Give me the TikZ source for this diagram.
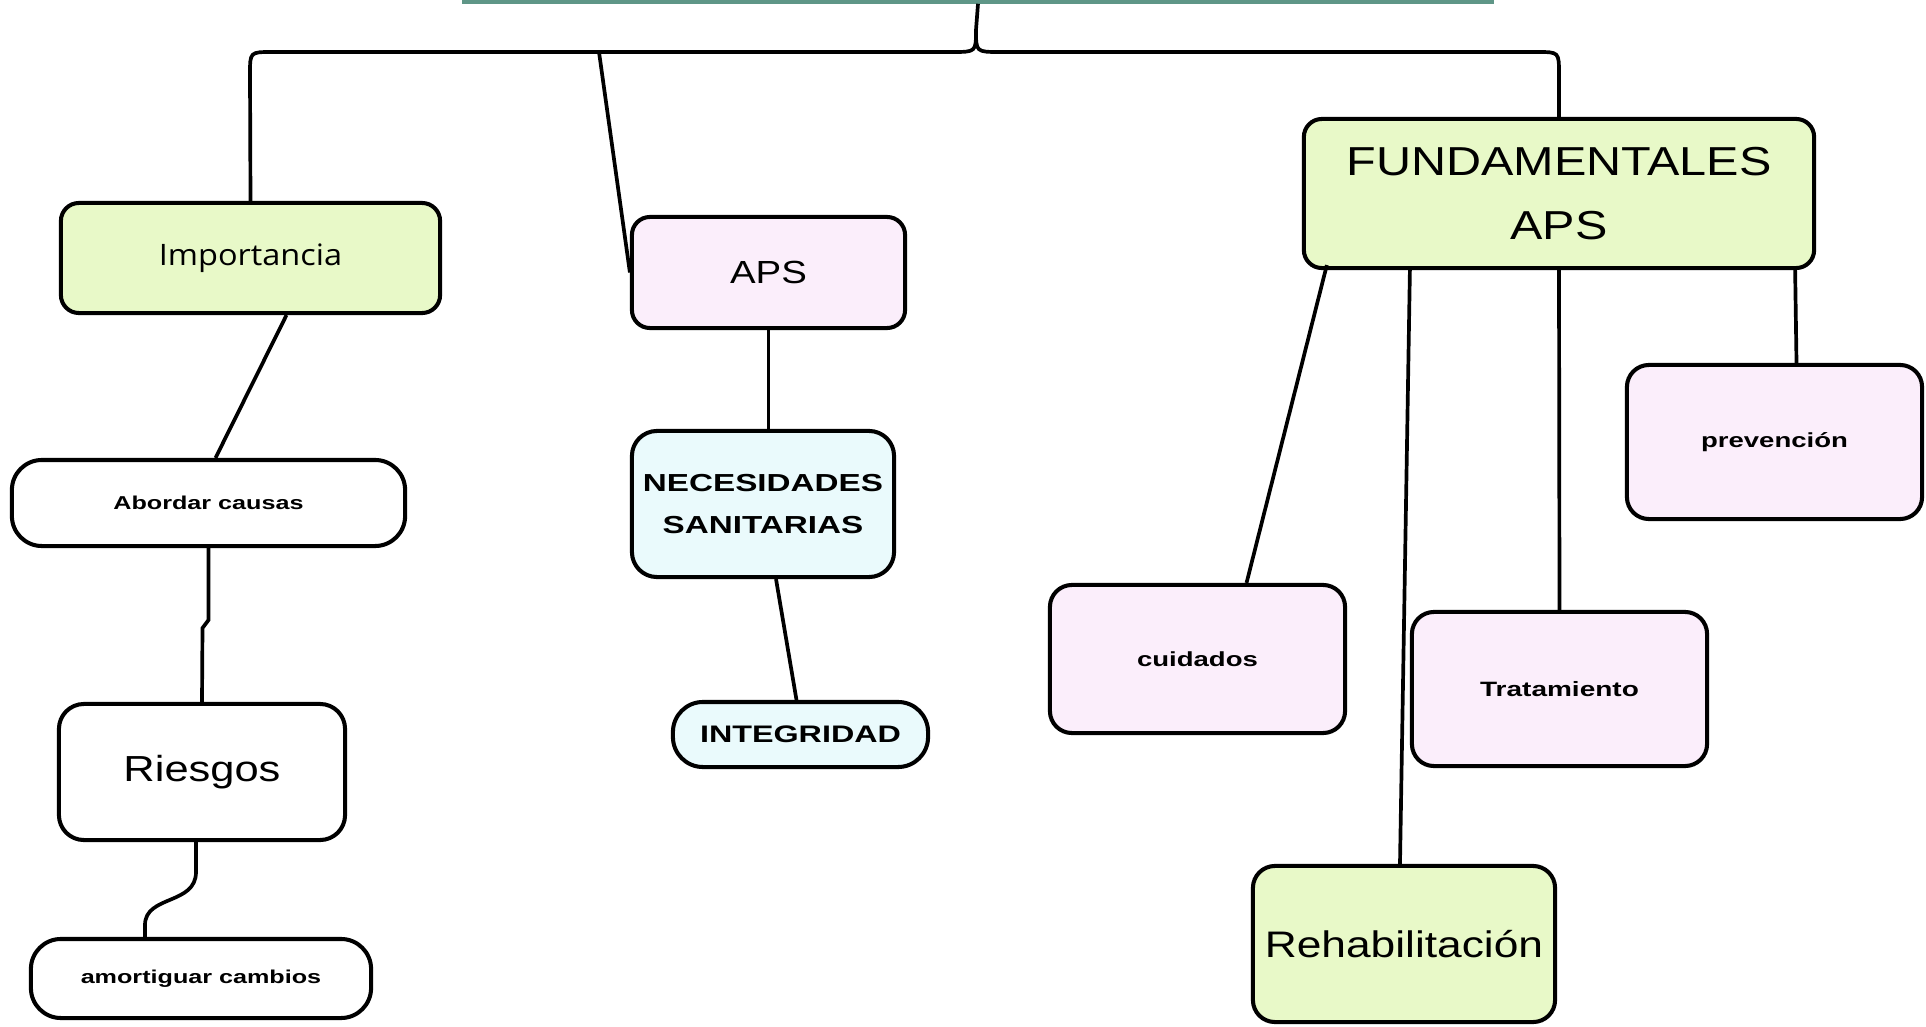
\documentclass[tikz,border=0pt]{standalone}
\usepackage{fontspec}
\usepackage{tikz}
\usetikzlibrary{positioning}
\newfontfamily\arialfont{Liberation Sans}[FakeStretch=1.2]
\newfontfamily\arialbold{Liberation Sans}[FakeStretch=1.35]
\newfontfamily\opensfont{Open Sans}[FakeStretch=1.1]
\definecolor{limefill}{RGB}{232,249,200}
\definecolor{pinkfill}{RGB}{251,238,251}
\definecolor{icefill}{RGB}{234,250,252}
\definecolor{rootteal}{RGB}{95,150,135}

\begin{document}
\begin{tikzpicture}[x=0.01cm,y=-0.01cm]
\tikzset{
  box/.style={draw=black, line width=1.15pt, rounded corners=0.18cm, inner sep=0pt, align=center},
  greenbox/.style={box, fill=limefill},
  pinkbox/.style={box, fill=pinkfill},
  icebox/.style={box, fill=icefill},
  whitebox/.style={box, fill=white},
  link/.style={line width=1.05pt}
}
\useasboundingbox (0,0) rectangle (1926,1027);
\node[draw=rootteal, line width=1pt, minimum width=10.28cm, minimum height=1cm] (root) at (978,-48) {};
\node[greenbox, minimum width=3.79cm, minimum height=1.10cm, font=\opensfont\fontsize{8.4}{10}\selectfont] (imp) at (250.5,258) {Importancia};
\node[pinkbox, minimum width=2.73cm, minimum height=1.11cm, font=\arialfont\fontsize{9.1}{11}\selectfont] (aps) at (768.5,272.5) {APS};
\node[greenbox, minimum width=5.10cm, minimum height=1.49cm, font=\arialfont\fontsize{11.5}{18}\selectfont] (fund) at (1559,193.5) {FUNDAMENTALES\\APS};
\node[whitebox, rounded corners=0.3cm, minimum width=3.93cm, minimum height=0.86cm, font=\arialbold\bfseries\fontsize{5.3}{7}\selectfont] (abord) at (208.5,503) {Abordar causas};
\node[whitebox, rounded corners=0.25cm, minimum width=2.86cm, minimum height=1.36cm, font=\arialfont\fontsize{10.3}{12}\selectfont] (ries) at (202,772) {Riesgos};
\node[whitebox, rounded corners=0.3cm, minimum width=3.40cm, minimum height=0.79cm, font=\arialbold\bfseries\fontsize{5.3}{7}\selectfont] (amort) at (201,978.5) {amortiguar cambios};
\node[icebox, rounded corners=0.25cm, minimum width=2.62cm, minimum height=1.46cm, font=\arialbold\bfseries\fontsize{7}{12.2}\selectfont] (nec) at (763,504) {NECESIDADES\\SANITARIAS};
\node[icebox, rounded corners=0.3cm, minimum width=2.55cm, minimum height=0.65cm, font=\arialbold\bfseries\fontsize{6.8}{8}\selectfont] (integ) at (800.5,734.5) {INTEGRIDAD};
\node[pinkbox, rounded corners=0.22cm, minimum width=2.95cm, minimum height=1.48cm, font=\arialbold\bfseries\fontsize{5.8}{7}\selectfont] (cuid) at (1197.5,659) {cuidados};
\node[pinkbox, rounded corners=0.22cm, minimum width=2.95cm, minimum height=1.54cm, font=\arialbold\bfseries\fontsize{5.9}{7}\selectfont] (trat) at (1559.5,689) {Tratamiento};
\node[pinkbox, rounded corners=0.22cm, minimum width=2.95cm, minimum height=1.54cm, font=\arialbold\bfseries\fontsize{5.8}{7}\selectfont] (prev) at (1774.5,442) {prevención};
\node[greenbox, rounded corners=0.22cm, minimum width=3.02cm, minimum height=1.56cm, font=\arialfont\fontsize{10.5}{12}\selectfont] (rehab) at (1404,944) {Rehabilitación};
\coordinate (brace) at (976,30);
\coordinate (bar) at (599,52);
\draw[link] (root.south) -- (brace) .. controls (976,52) .. (952,52) -- (272,52) .. controls (250,52) .. (250,74) -- (imp.north);
\draw[link] (brace) .. controls (976,52) .. (1000,52) -- (1537,52) .. controls (1559,52) .. (1559,74) -- (fund.north);
\draw[link] (bar) -- (aps.west);
\draw[link] ([xshift=0.36cm]imp.south) -- ([xshift=0.07cm]abord.north);
\draw[link] (abord.south) -- ++(0,72) -- ++(-6,8) -- (ries.north);
\draw[link] ([xshift=-0.06cm]ries.south) -- (196,872) .. controls (196,905) and (145,895) .. (145,925) -- ([xshift=-0.56cm]amort.north);
\draw[link] (aps.south) -- (aps.south |- nec.north);
\draw[link] ([xshift=0.13cm]nec.south) -- ([xshift=-0.04cm]integ.north);
\draw[link] ([xshift=0.25cm,yshift=0.05cm]fund.south west) -- ([xshift=0.49cm]cuid.north);
\draw[link] ([xshift=-1.49cm]fund.south) -- ([xshift=-0.04cm]rehab.north);
\draw[link] (fund.south) -- (trat.north);
\draw[link] ([xshift=2.36cm]fund.south) -- ([xshift=0.22cm]prev.north);
\end{tikzpicture}
\end{document}
